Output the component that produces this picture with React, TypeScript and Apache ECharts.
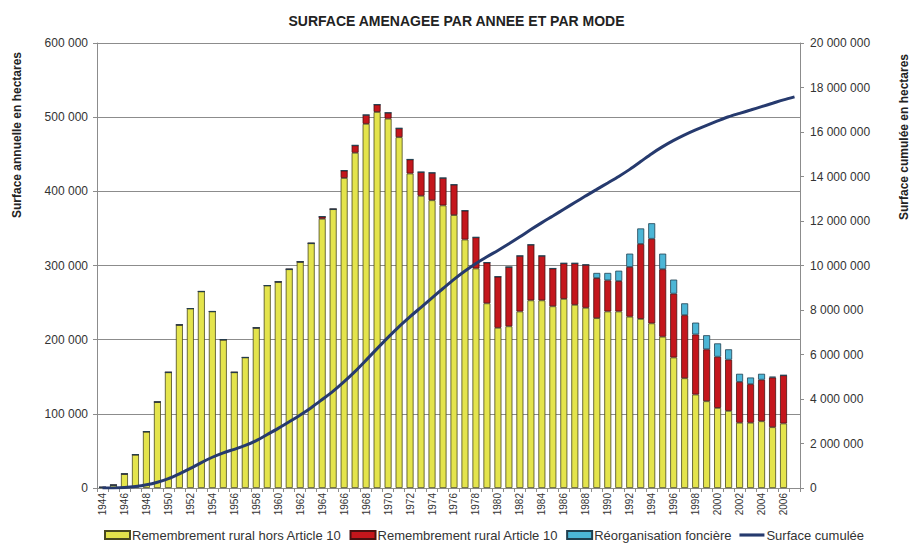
import React, { useEffect, useRef } from "react";
import * as echarts from "echarts";

const years: string[] = [];
for (let y = 1944; y <= 2007; y++) years.push(String(y));

// Remembrement rural hors Article 10
const horsArticle10: (number | null)[] = [
  1000, 4000, 19000, 45000, 76000, 116000, 156000, 220000, 242000, 265000,
  238000, 200000, 156000, 176000, 216000, 273000, 278000, 295000, 305000, 330000,
  363000, 376000, 418000, 452000, 491000, 507000, 498000, 473000, 424000, 394000,
  388000, 381000, 368000, 335000, 296000, 249000, 216000, 218000, 238000, 253000,
  253000, 245000, 255000, 247000, 243000, 229000, 238000, 238000, 231000, 228000,
  222000, 204000, 176000, 148000, 126000, 117000, 108000, 104000, 88000, 88000,
  90000, 82000, 87000, null,
];

// Remembrement rural Article 10
const article10: (number | null)[] = [
  0, 0, 0, 0, 0, 0, 0, 0, 0, 0,
  0, 0, 0, 0, 0, 0, 0, 0, 0, 0,
  3000, 0, 10000, 10000, 12000, 10000, 8000, 12000, 19000, 32000,
  37000, 37000, 41000, 39000, 42000, 55000, 69000, 80000, 75000, 75000,
  60000, 51000, 48000, 56000, 58000, 54000, 42000, 41000, 67000, 101000,
  114000, 91000, 86000, 85000, 81000, 70000, 69000, 69000, 55000, 52000,
  56000, 67000, 65000, null,
];

// Réorganisation foncière
const reorganisation: (number | null)[] = [
  0, 0, 0, 0, 0, 0, 0, 0, 0, 0,
  0, 0, 0, 0, 0, 0, 0, 0, 0, 0,
  0, 0, 0, 0, 0, 0, 0, 0, 0, 0,
  0, 0, 0, 0, 0, 0, 0, 0, 0, 0,
  0, 0, 0, 0, 0, 7000, 10000, 14000, 18000, 21000,
  21000, 21000, 19000, 16000, 16000, 19000, 18000, 14000, 11000, 9000,
  8000, 1000, 0, null,
];

// Surface cumulée (right axis)
const cumulee: number[] = [
  1000, 5000, 24000, 69000, 145000, 261000, 417000, 637000, 879000, 1144000,
  1382000, 1582000, 1738000, 1914000, 2130000, 2403000, 2681000, 2976000, 3281000, 3611000,
  3977000, 4353000, 4781000, 5243000, 5746000, 6263000, 6769000, 7254000, 7697000, 8123000,
  8548000, 8966000, 9375000, 9749000, 10087000, 10391000, 10676000, 10974000, 11287000, 11615000,
  11928000, 12224000, 12527000, 12830000, 13131000, 13421000, 13711000, 14004000, 14320000, 14670000,
  15027000, 15343000, 15624000, 15873000, 16096000, 16302000, 16497000, 16684000, 16838000, 16987000,
  17141000, 17291000, 17443000, 17580000,
];

const leftTicks = { min: 0, max: 600000, interval: 100000 };
const rightTicks = { min: 0, max: 20000000, interval: 2000000 };

const fmt = (v: number) =>
  String(Math.round(v)).replace(/\B(?=(\d{3})+(?!\d))/g, " ");

const FONT = "'Liberation Sans', Arial, sans-serif";
const GRID = "#8c8c8c";

export default function App() {
  const ref = useRef<HTMLDivElement>(null);

  useEffect(() => {
    document.body.style.margin = "0";
    if (!ref.current) return;
    const chart = echarts.init(ref.current, null, { renderer: "svg" });
    chart.setOption({
      animation: false,
      backgroundColor: "#ffffff",
      textStyle: { fontFamily: FONT },
      title: {
        text: "SURFACE AMENAGEE PAR ANNEE ET PAR MODE",
        left: "center",
        top: 9,
        textStyle: { fontFamily: FONT, fontSize: 14, fontWeight: "bold", color: "#222" },
      },
      grid: { left: 97, right: 113, top: 43, bottom: 59, containLabel: false },
      legend: {
        left: 104,
        top: 528,
        padding: 0,
        itemWidth: 25,
        itemHeight: 8,
        itemGap: 8,
        symbolKeepAspect: true,
        textStyle: {
          fontFamily: FONT,
          fontSize: 13,
          lineHeight: 14,
          color: "#333",
          padding: [0, 0, 0, -3],
        },
        data: [
          { name: "Remembrement rural hors Article 10", icon: "rect" },
          { name: "Remembrement rural Article 10", icon: "rect" },
          { name: "Réorganisation foncière", icon: "rect" },
          { name: "Surface cumulée", icon: "path://M0,0 H24 V3 H0 Z" },
        ],
      },
      graphic: [
        {
          type: "text",
          x: 17,
          y: 135,
          rotation: Math.PI / 2,
          style: {
            text: "Surface annuelle en hectares",
            font: `bold 12px ${FONT}`,
            fill: "#222",
            align: "center",
            verticalAlign: "middle",
          },
        },
        {
          type: "text",
          x: 904,
          y: 137,
          rotation: Math.PI / 2,
          style: {
            text: "Surface cumulée en hectares",
            font: `bold 12px ${FONT}`,
            fill: "#222",
            align: "center",
            verticalAlign: "middle",
          },
        },
      ],
      xAxis: {
        type: "category",
        data: years,
        boundaryGap: true,
        axisLine: { lineStyle: { color: GRID } },
        axisTick: { show: true, interval: 0, length: 4, lineStyle: { color: GRID } },
        axisLabel: {
          interval: 1,
          rotate: 90,
          fontSize: 10,
          color: "#333",
          fontFamily: FONT,
          margin: 5,
        },
      },
      yAxis: [
        {
          type: "value",
          ...leftTicks,
          axisLine: { show: true, lineStyle: { color: GRID } },
          axisTick: { show: true, length: 4, lineStyle: { color: GRID } },
          splitLine: { show: true, lineStyle: { color: GRID, width: 1 } },
          axisLabel: { formatter: fmt, fontSize: 12, color: "#333", fontFamily: FONT, margin: 9 },
        },
        {
          type: "value",
          ...rightTicks,
          position: "right",
          axisLine: { show: true, lineStyle: { color: GRID } },
          axisTick: { show: true, length: 4, lineStyle: { color: GRID } },
          splitLine: { show: false },
          axisLabel: { formatter: fmt, fontSize: 12, color: "#333", fontFamily: FONT, margin: 10 },
        },
      ],
      series: [
        {
          name: "Remembrement rural hors Article 10",
          type: "bar",
          stack: "a",
          data: horsArticle10,
          barWidth: 7,
          itemStyle: { color: "#e4e44c", borderColor: "#4a4a20", borderWidth: 0.8 },
        },
        {
          name: "Remembrement rural Article 10",
          type: "bar",
          stack: "a",
          data: article10,
          barWidth: 7,
          itemStyle: { color: "#c4161c", borderColor: "#4a1010", borderWidth: 0.8 },
        },
        {
          name: "Réorganisation foncière",
          type: "bar",
          stack: "a",
          data: reorganisation,
          barWidth: 7,
          itemStyle: { color: "#4cb6d6", borderColor: "#204050", borderWidth: 0.8 },
        },
        {
          name: "Surface cumulée",
          type: "line",
          yAxisIndex: 1,
          data: cumulee,
          symbol: "none",
          smooth: 0.3,
          lineStyle: { color: "#263a6e", width: 3 },
          itemStyle: { color: "#263a6e" },
          z: 5,
        },
      ],
    });
    return () => chart.dispose();
  }, []);

  return <div ref={ref} style={{ width: 913, height: 547 }} />;
}
